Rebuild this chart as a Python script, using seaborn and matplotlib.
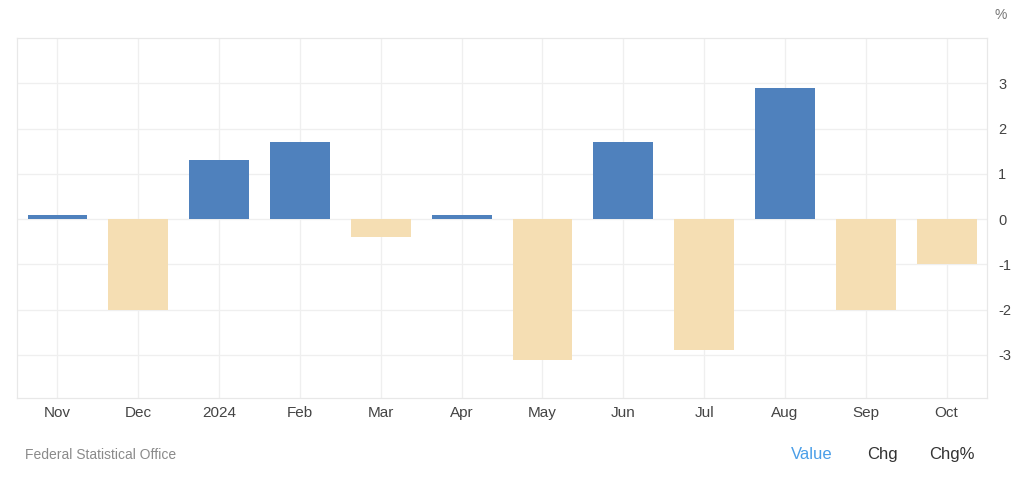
import matplotlib
matplotlib.use("Agg")
import matplotlib.pyplot as plt
import seaborn as sns
import pandas as pd

months = ["Nov", "Dec", "2024", "Feb", "Mar", "Apr", "May", "Jun", "Jul", "Aug", "Sep", "Oct"]
values = [0.1, -2.0, 1.3, 1.7, -0.4, 0.1, -3.1, 1.7, -2.9, 2.9, -2.0, -1.0]
yticks = [-3, -2, -1, 0, 1, 2, 3]

df = pd.DataFrame({"month": months, "value": values})
df["sign"] = ["pos" if v >= 0 else "neg" for v in values]

sns.set_theme(style="white")
plt.rcParams["font.family"] = ["Liberation Sans", "DejaVu Sans"]

fig = plt.figure(figsize=(10.24, 4.82), dpi=100)
ax = fig.add_axes([0.0166, 0.1743, 0.9473, 0.7467])

sns.barplot(data=df, x="month", y="value", hue="sign",
            palette={"pos": "#4f81bd", "neg": "#f5deb3"},
            dodge=False, width=0.74, legend=False, ax=ax,
            saturation=1, linewidth=0)

ax.set_xlim(-0.5, 11.5)
ax.set_ylim(-3.95, 4.0)
ax.set_yticks(yticks)
ax.set_yticklabels([str(t) for t in yticks])
ax.yaxis.tick_right()
ax.set_xlabel("")
ax.set_ylabel("")
ax.grid(True, color="#efefef", linewidth=0.9)
ax.set_axisbelow(True)
for s in ax.spines.values():
    s.set_color("#e8e8e8")
    s.set_linewidth(0.9)
ax.tick_params(axis="x", length=0, labelsize=11, colors="#444444", pad=6)
ax.tick_params(axis="y", length=0, labelsize=10.5, colors="#444444", pad=8)

fig.text(0.971, 0.968, "%", fontsize=10, color="#777777", ha="left", va="center")
fig.text(0.024, 0.055, "Federal Statistical Office", fontsize=10, color="#8a8a8a", ha="left", va="center")
fig.text(0.793, 0.058, "Value", fontsize=12, color="#4a9ee8", ha="center", va="center")
fig.text(0.862, 0.058, "Chg", fontsize=12, color="#333333", ha="center", va="center")
fig.text(0.930, 0.058, "Chg%", fontsize=12, color="#333333", ha="center", va="center")

fig.savefig("out.png", dpi=100, facecolor="white")
